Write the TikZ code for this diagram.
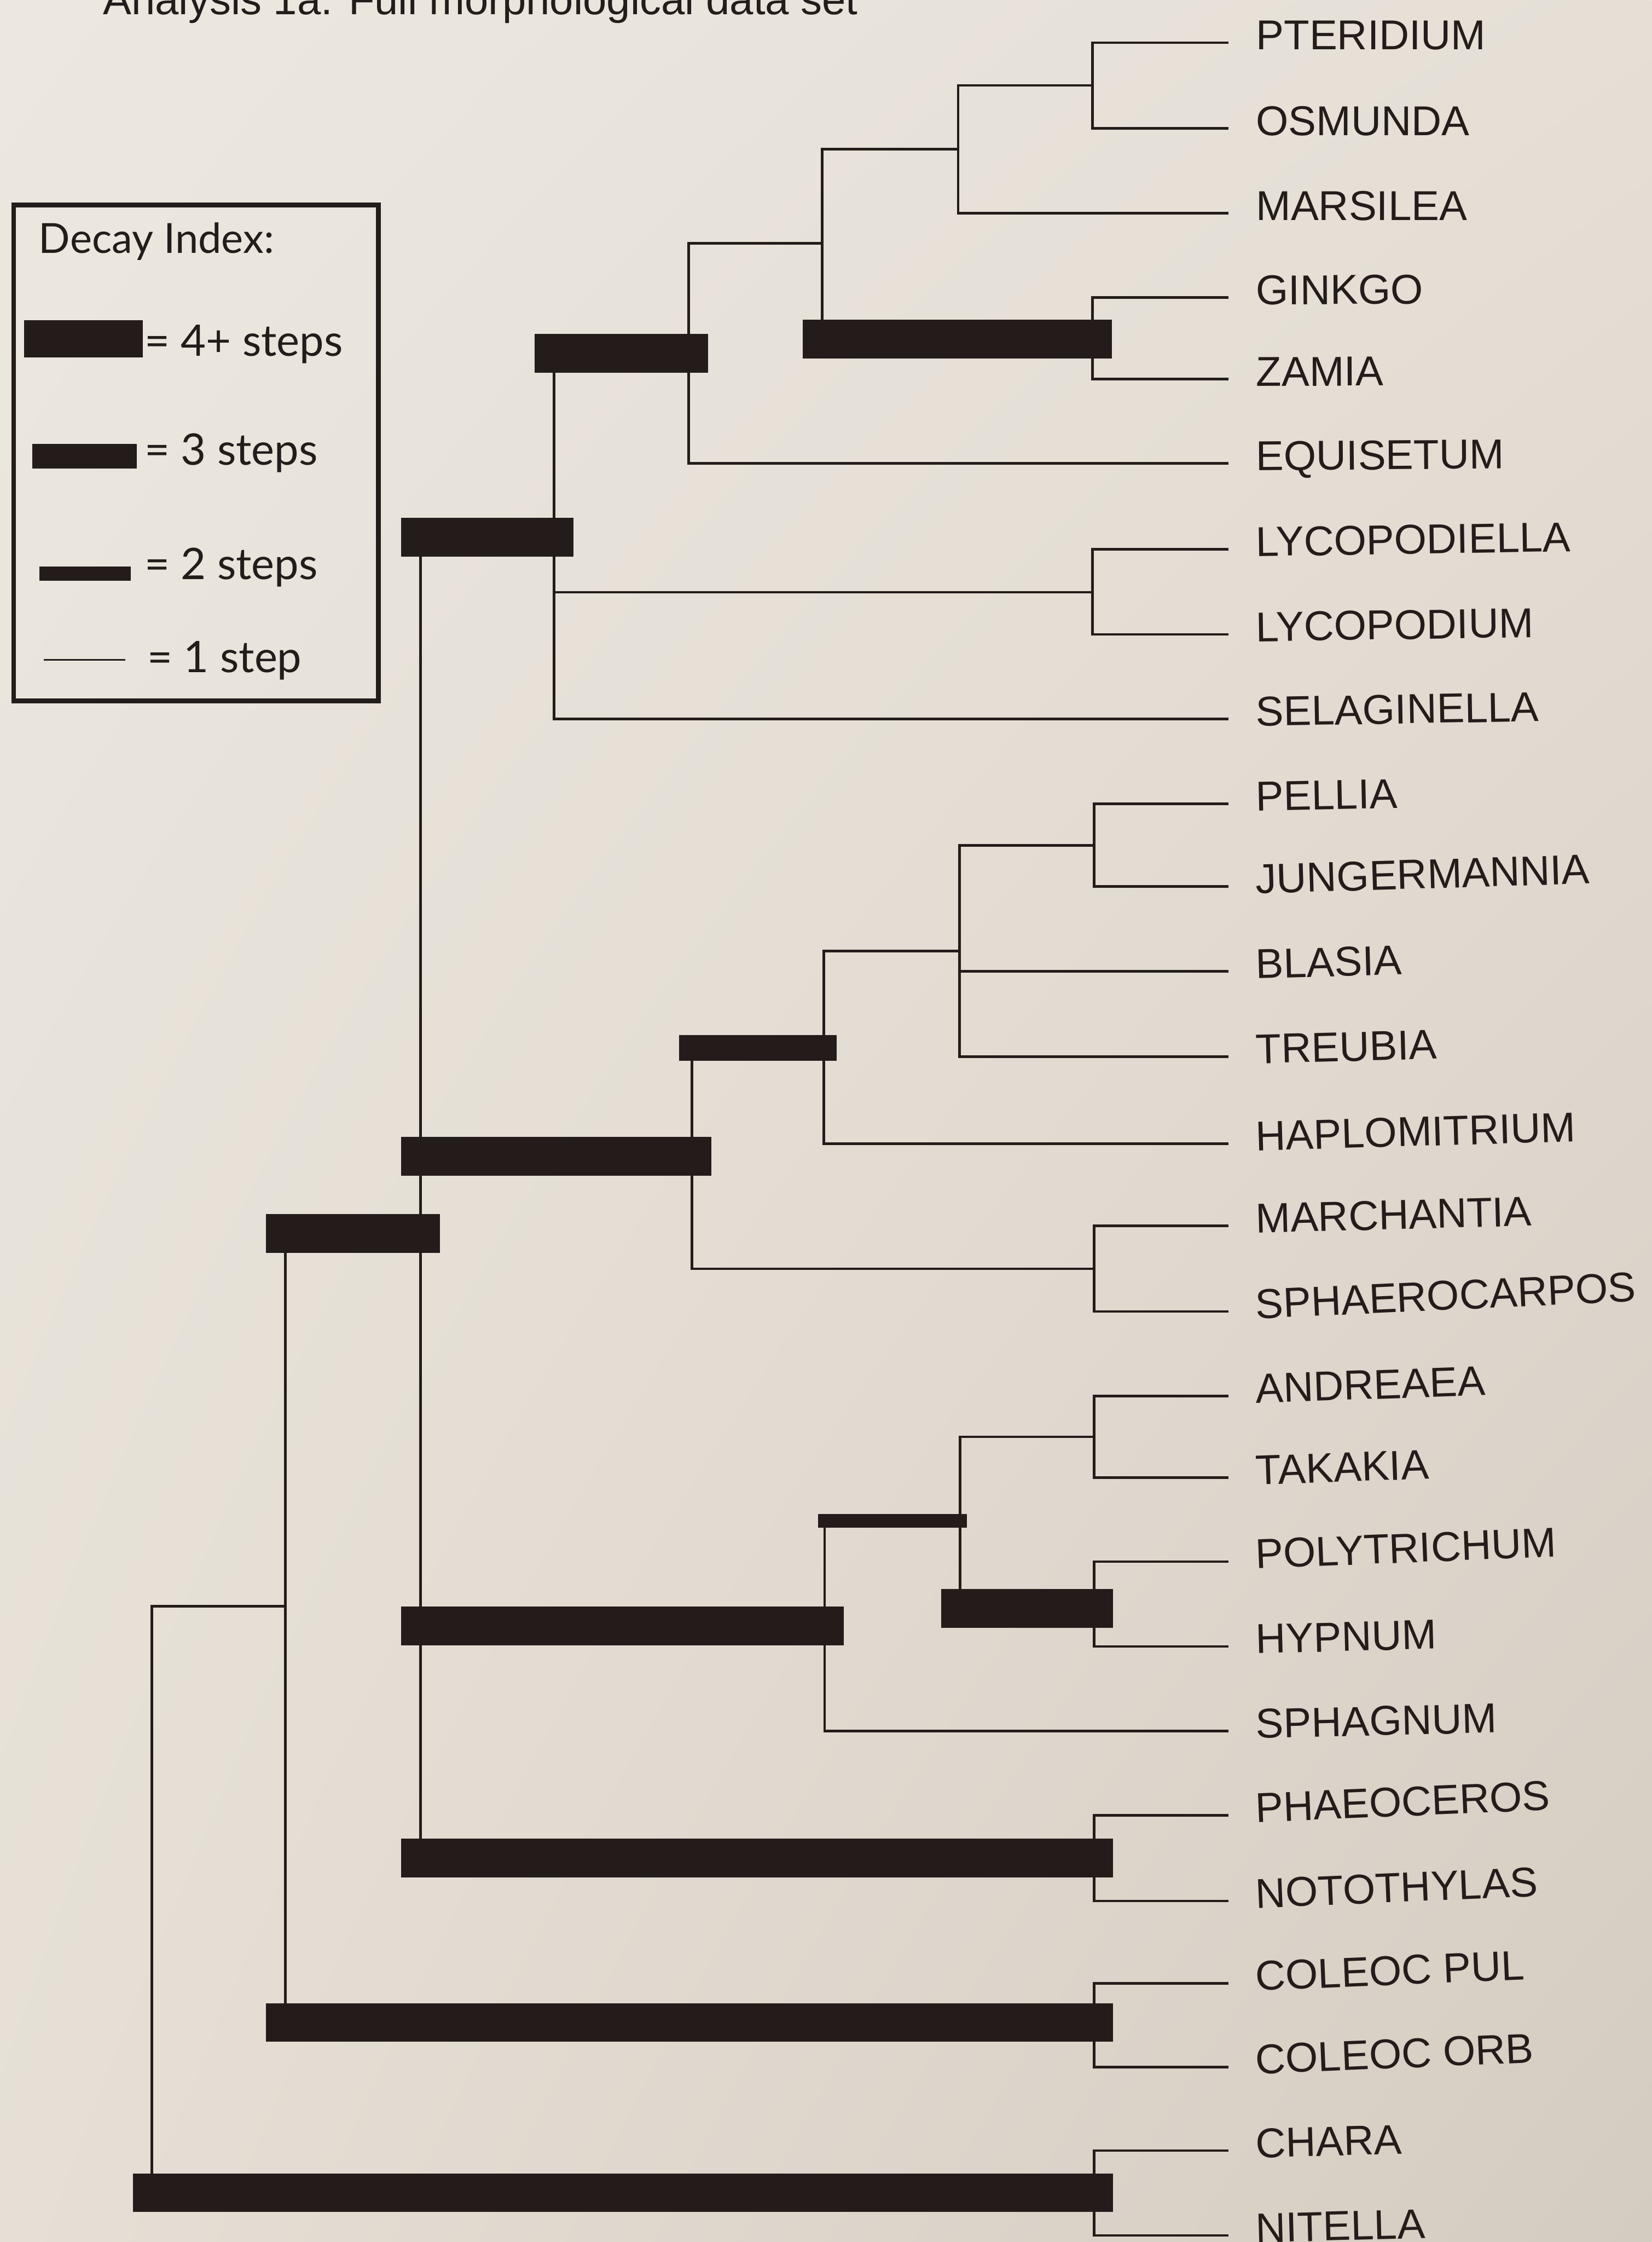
\documentclass[tikz,border=0pt]{standalone}
\usepackage{fontspec}
\usetikzlibrary{shadings}
\setmainfont{Liberation Sans}
\newfontfamily\legfont{Lato}
\definecolor{ink}{RGB}{36,28,26}
\definecolor{bgUL}{RGB}{236,232,224}
\definecolor{bgUR}{RGB}{229,223,214}
\definecolor{bgLL}{RGB}{229,223,213}
\definecolor{bgLR}{RGB}{213,204,193}
\begin{document}
\begin{tikzpicture}[x=0.5pt,y=-0.5pt,
  br/.style={draw=ink, line width=0.9pt, line cap=rect},
  dtwo/.style={br, line width=4.75pt},
  dthree/.style={br, line width=9pt},
  dfour/.style={br, line width=13.5pt},
  leaf/.style={anchor=base west, inner sep=0pt, text=ink, font=\fontsize{14.6}{16}\selectfont},
  legt/.style={anchor=base west, inner sep=0pt, text=ink, font=\legfont\fontsize{14.5}{16}\selectfont},
  keyt/.style={legt, font=\legfont\fontsize{15.2}{16}\selectfont},
  keybar/.style={draw=ink, line cap=butt}]
\useasboundingbox (0,0) rectangle (1155,1567.4);
\clip (0,0) rectangle (1155,1567.4);
\shade[upper left=bgUL, upper right=bgUR, lower left=bgLL, lower right=bgLR] (0,0) rectangle (1155,1567.4);

% title
\node[leaf, font=\fontsize{14.9}{16}\selectfont] (title) at (71.7,10) {Analysis 1a: Full morphological data set};

% legend
\node[draw=ink, line width=1.65pt, minimum width=127.55pt, minimum height=173.35pt, inner sep=0pt, anchor=north west] (legend) at (7.9,141.6) {};
\node[legt] (dk) at (26.7,177) {Decay Index:};
\draw[keybar, line width=13pt] (17,237) -- (100,237);
\node[keyt] (k4) at (100.7,249) {= 4+ steps};
\draw[keybar, line width=8.5pt] (22.6,319) -- (95.8,319);
\node[keyt] (k3) at (100.7,325) {= 3 steps};
\draw[keybar, line width=5pt] (27.6,401) -- (91.6,401);
\node[keyt] (k2) at (100.7,405) {= 2 steps};
\draw[keybar, line width=0.7pt] (30.8,461.3) -- (87.5,461.3);
\node[keyt] (k1) at (102.7,470) {= 1 step};

% leaves
\foreach \n/\y/\a/\t in {
  0/29.8/0/PTERIDIUM, 1/89.7/0/OSMUNDA, 2/149/0/MARSILEA, 3/208/0.3/GINKGO, 4/265/0.3/ZAMIA,
  5/324/0.5/EQUISETUM, 6/384/0.9/LYCOPODIELLA, 7/443.5/0.9/LYCOPODIUM, 8/502.7/1.0/SELAGINELLA,
  9/562/1.2/PELLIA, 10/619.7/1.7/JUNGERMANNIA, 11/679/1.5/BLASIA, 12/738.6/1.5/TREUBIA,
  13/799.6/1.7/HAPLOMITRIUM, 14/857/1.5/MARCHANTIA, 15/916.9/2.6/SPHAEROCARPOS,
  16/976/2.0/ANDREAEA, 17/1033/2.0/TAKAKIA, 18/1091.7/2.3/POLYTRICHUM, 19/1151/1.5/HYPNUM,
  20/1210.3/1.4/SPHAGNUM, 21/1269/2.4/PHAEOCEROS, 22/1329/2.4/NOTOTHYLAS,
  23/1386.7/2.4/COLEOC PUL, 24/1445/2.4/COLEOC ORB, 25/1503.5/1.5/CHARA, 26/1562.8/1.5/NITELLA} {
  \coordinate (e\n) at (858,\y);
  \node[leaf, rotate=\a] (t\n) at (878,\y+5) {\t};
}

% internal nodes
\coordinate (PO) at (764,59.75);
\coordinate (POM) at (670,104.4);
\coordinate (GZ) at (764,237);
\coordinate (SF) at (575,170);
\coordinate (EU) at (481.6,247);
\coordinate (LY) at (764,414);
\coordinate (VA) at (387.4,375.5);
\coordinate (PJ) at (765,591);
\coordinate (PB) at (671,665);
\coordinate (LI) at (576,732.5);
\coordinate (MS) at (765,887);
\coordinate (LV) at (484,808.4);
\coordinate (AT) at (765,1004.5);
\coordinate (PH) at (765,1124.5);
\coordinate (AP) at (671.5,1063.3);
\coordinate (MO) at (576.7,1136.7);
\coordinate (HO) at (765,1299);
\coordinate (LA) at (294,862.4);
\coordinate (CO) at (765,1414);
\coordinate (ST) at (199.5,1123);
\coordinate (CN) at (765,1533);
\coordinate (RT) at (106.3,1123);

% ferns
\draw[br] (PO |- e0) -- (PO |- e1);
\draw[br] (PO |- e0) -- (e0);
\draw[br] (PO |- e1) -- (e1);
\draw[br] (POM |- PO) -- (POM |- e2);
\draw[br] (POM |- PO) -- (PO);
\draw[br] (POM |- e2) -- (e2);
% seed plants
\draw[br] (GZ |- e3) -- (GZ |- e4);
\draw[br] (GZ |- e3) -- (e3);
\draw[br] (GZ |- e4) -- (e4);
\draw[br] (SF |- POM) -- (SF |- GZ);
\draw[br] (SF |- POM) -- (POM);
\draw[dfour] (SF |- GZ) -- (GZ);
% euphyllophytes
\draw[br] (EU |- SF) -- (EU |- e5);
\draw[br] (EU |- SF) -- (SF);
\draw[br] (EU |- e5) -- (e5);
% lycopods
\draw[br] (LY |- e6) -- (LY |- e7);
\draw[br] (LY |- e6) -- (e6);
\draw[br] (LY |- e7) -- (e7);
% vascular
\draw[br] (VA |- EU) -- (VA |- e8);
\draw[dfour] (VA |- EU) -- (EU);
\draw[br] (VA |- LY) -- (LY);
\draw[br] (VA |- e8) -- (e8);
% liverworts
\draw[br] (PJ |- e9) -- (PJ |- e10);
\draw[br] (PJ |- e9) -- (e9);
\draw[br] (PJ |- e10) -- (e10);
\draw[br] (PB |- PJ) -- (PB |- e12);
\draw[br] (PB |- PJ) -- (PJ);
\draw[br] (PB |- e11) -- (e11);
\draw[br] (PB |- e12) -- (e12);
\draw[br] (LI |- PB) -- (LI |- e13);
\draw[br] (LI |- PB) -- (PB);
\draw[br] (LI |- e13) -- (e13);
\draw[br] (MS |- e14) -- (MS |- e15);
\draw[br] (MS |- e14) -- (e14);
\draw[br] (MS |- e15) -- (e15);
\draw[br] (LV |- LI) -- (LV |- MS);
\draw[dthree] (LV |- LI) -- (LI);
\draw[br] (LV |- MS) -- (MS);
% mosses
\draw[br] (AT |- e16) -- (AT |- e17);
\draw[br] (AT |- e16) -- (e16);
\draw[br] (AT |- e17) -- (e17);
\draw[br] (PH |- e18) -- (PH |- e19);
\draw[br] (PH |- e18) -- (e18);
\draw[br] (PH |- e19) -- (e19);
\draw[br] (AP |- AT) -- (AP |- PH);
\draw[br] (AP |- AT) -- (AT);
\draw[dfour] (AP |- PH) -- (PH);
\draw[br] (MO |- AP) -- (MO |- e20);
\draw[dtwo] (MO |- AP) -- (AP);
\draw[br] (MO |- e20) -- (e20);
% hornworts
\draw[br] (HO |- e21) -- (HO |- e22);
\draw[br] (HO |- e21) -- (e21);
\draw[br] (HO |- e22) -- (e22);
% land plants
\draw[br] (LA |- VA) -- (LA |- HO);
\draw[dfour] (LA |- VA) -- (VA);
\draw[dfour] (LA |- LV) -- (LV);
\draw[dfour] (LA |- MO) -- (MO);
\draw[dfour] (LA |- HO) -- (HO);
% coleochaete
\draw[br] (CO |- e23) -- (CO |- e24);
\draw[br] (CO |- e23) -- (e23);
\draw[br] (CO |- e24) -- (e24);
\draw[br] (ST |- LA) -- (ST |- CO);
\draw[dfour] (ST |- LA) -- (LA);
\draw[dfour] (ST |- CO) -- (CO);
% charophytes
\draw[br] (CN |- e25) -- (CN |- e26);
\draw[br] (CN |- e25) -- (e25);
\draw[br] (CN |- e26) -- (e26);
% root
\draw[br] (RT) -- (RT |- CN);
\draw[br] (RT) -- (ST);
\draw[dfour] (RT |- CN) -- (CN);
\end{tikzpicture}
\end{document}
